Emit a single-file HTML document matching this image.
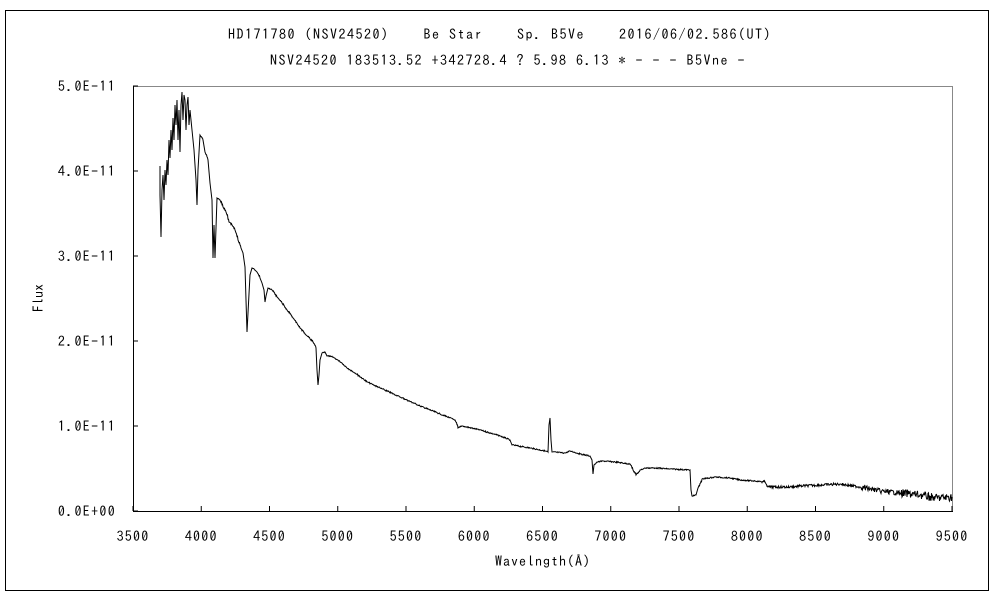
<!DOCTYPE html>
<html><head><meta charset="utf-8"><style>
body{margin:0;background:#fff;}
svg text{font-family:"IPAGothic","Noto Sans CJK JP","Liberation Sans",sans-serif;font-size:14px;fill:#000;white-space:pre;}
</style></head><body>
<svg id="s" width="1000" height="600" xmlns="http://www.w3.org/2000/svg">
<rect x="5.5" y="10.5" width="983" height="580" fill="#fff" stroke="#000"/>
<text x="500" y="39" text-anchor="middle" letter-spacing="1.5" xml:space="preserve">HD171780 (NSV24520)    Be Star    Sp. B5Ve    2016/06/02.586(UT)</text>
<text x="508" y="65" text-anchor="middle" letter-spacing="1.5" xml:space="preserve">NSV24520 183513.52 +342728.4 ? 5.98 6.13 * - - - B5Vne -</text>
<line x1="133" y1="86.5" x2="952" y2="86.5" stroke="#888"/>
<line x1="952.5" y1="86" x2="952.5" y2="511" stroke="#888"/>
<line x1="133.5" y1="86" x2="133.5" y2="511" stroke="#000"/>
<line x1="133" y1="511.5" x2="953" y2="511.5" stroke="#000"/>
<g id="ticks" stroke="#000"></g>
<g id="lab"></g>
<text x="43" y="298" transform="rotate(-90 43 298)" text-anchor="middle">Flux</text>
<text x="543" y="566" text-anchor="middle" letter-spacing="1">Wavelngth(Å)</text>
<polyline id="sp" fill="none" stroke="#000" stroke-width="1"/>
</svg>
<script>
var t=document.getElementById('ticks'),l=document.getElementById('lab'),h='';
var lh='';
for(var i=0;i<=12;i++){var x=133+i*819/12;h+='<line x1="'+x+'" y1="511" x2="'+x+'" y2="506"/>';
lh+='<text x="'+x+'" y="541" text-anchor="middle" letter-spacing="1.2">'+(3500+i*500)+'</text>';}
var ys=['0.0E+00','1.0E-11','2.0E-11','3.0E-11','4.0E-11','5.0E-11'];
for(var j=0;j<=5;j++){var y=511-j*85;h+='<line x1="133" y1="'+y+'" x2="138" y2="'+y+'"/>';
lh+='<text x="116" y="'+(y+5)+'" text-anchor="end" letter-spacing="1.3">'+ys[j]+'</text>';}
t.innerHTML=h;l.innerHTML=lh;
var p=[[160,166],[160,195],[161,237],[162,190],[163,175],[164,200],[165,170],[166,185],[167,160],[168,175],[169,140],[170,158],[171,130],[172,150],[173,118],[174,140],[175,105],[176,125],[177,100],[178,140],[179,110],[180,152],[181,105],[182,92],[183,120],[184,95],[185,100],[186,130],[187,105],[188,97],[189,125],[190,110],[192,130],[194,150],[196,180],[197,205],[198,170],[200,135],[203,140],[205,152],[208,160],[210,183],[212,200],[213,258],[214,225],[215,258],[217,198],[220,200],[223,207],[226,212],[229,222],[232,225],[235,230],[238,240],[241,248],[243,253],[245,267],[246,300],[247,332],[248,313],[250,275],[252,268],[255,270],[257,272],[260,278],[262,283],[264,290],[265,302],[266,296],[268,288],[272,290],[277,297],[282,303],[287,310],[293,318],[300,328],[306,335],[313,342],[316,348],[317,370],[318,385],[319,375],[320,360],[322,353],[325,352],[327,356],[333,357],[340,362],[347,368],[355,373],[367,382],[380,388],[400,397],[420,406],[440,414],[455,420],[458,428],[462,426],[480,430],[500,436],[510,440],[512,445],[530,448],[545,451],[548,452],[549,425],[550,418],[551,440],[552,452],[565,453],[570,451],[580,454],[590,456],[592,460],[593,474],[594,465],[597,462],[603,461],[615,462],[630,464],[633,470],[636,475],[640,470],[645,468],[655,468],[670,469],[690,470],[691,490],[692,496],[696,495],[698,488],[702,479],[715,477],[730,478],[740,480],[755,481],[765,482],[768,487],[790,487],[800,486],[820,485],[840,484],[860,487],[870,489],[880,491],[900,493],[920,495],[935,498],[952,497]];
var out=[],seed=7;function r(){seed=(seed*9301+49297)%233280;return seed/233280-0.5;}
for(var k=0;k<p.length-1;k++){var a=p[k],b=p[k+1];out.push(a);
if(b[0]-a[0]>2){for(var x=a[0]+1;x<b[0];x++){var y=a[1]+(b[1]-a[1])*(x-a[0])/(b[0]-a[0]);var amp=x>900?8:(x>860?5:(x>760?2.5:1.2));out.push([x,y+r()*amp]);out.push([x+0.5,y+r()*amp]);}}}
out.push(p[p.length-1]);
document.getElementById('sp').setAttribute('points',out.map(function(q){return q[0]+','+q[1].toFixed(1)}).join(' '));
</script>
</body></html>
